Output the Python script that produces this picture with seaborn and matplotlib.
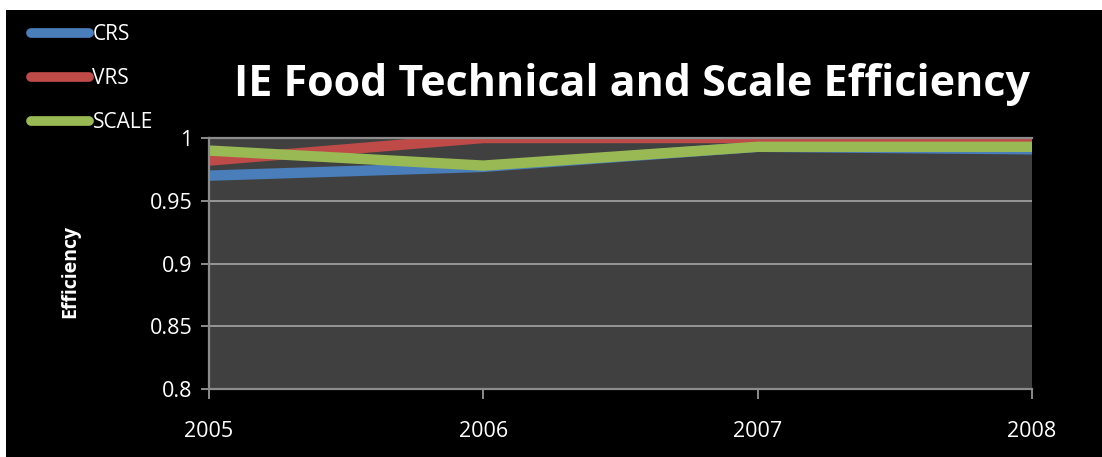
import matplotlib
matplotlib.use("Agg")
import matplotlib.pyplot as plt
from matplotlib.lines import Line2D
from matplotlib.patches import Rectangle
import seaborn as sns
import pandas as pd

# Efficiency scores per year
years = [2005, 2006, 2007, 2008]
crs = [0.970, 0.977, 0.993, 0.991]
vrs = [0.982, 1.000, 1.000, 1.000]
scale = [0.990, 0.978, 0.993, 0.993]
series_names = ["CRS", "VRS", "SCALE"]
y_ticks = [0.8, 0.85, 0.9, 0.95, 1.0]
y_tick_labels = ["0.8", "0.85", "0.9", "0.95", "1"]

colors = {"CRS": "#4A7EBB", "VRS": "#BE4B48", "SCALE": "#98B954"}

df = pd.DataFrame({
    "Year": years * 3,
    "Efficiency": crs + vrs + scale,
    "Series": ["CRS"] * 4 + ["VRS"] * 4 + ["SCALE"] * 4,
})

sns.set_style("dark")
plt.rcParams["font.family"] = ["Open Sans", "DejaVu Sans"]

fig = plt.figure(figsize=(11.02, 4.57), dpi=100)
fig.patch.set_facecolor("white")
# black panel behind the chart, leaving a thin white margin top and left
fig.patches.append(Rectangle((6 / 1102, 0), 1, 1 - 10 / 457, transform=fig.transFigure,
                             facecolor="black", edgecolor="none", zorder=-10))

ax = fig.add_axes([209 / 1102, 1 - 389 / 457, (1032 - 209) / 1102, (389 - 138) / 457])
ax.set_facecolor("#404040")

sns.lineplot(data=df, x="Year", y="Efficiency", hue="Series", hue_order=series_names,
             palette=colors, linewidth=7.5, ax=ax, legend=False, sort=False)
for ln in ax.get_lines():
    ln.set_solid_capstyle("butt")
    ln.set_solid_joinstyle("round")

ax.set_xlim(2005, 2008)
ax.set_ylim(0.8, 1.0)
ax.set_xticks(years)
ax.set_xticklabels([str(y) for y in years])
ax.set_yticks(y_ticks)
ax.set_yticklabels(y_tick_labels)
ax.grid(True, axis="y", color="#a6a6a6", linewidth=1.2)
ax.grid(False, axis="x")
ax.set_axisbelow(True)

ax.spines["right"].set_visible(False)
for side in ["left", "bottom", "top"]:
    ax.spines[side].set_visible(True)
    ax.spines[side].set_color("#8c8c8c")
    ax.spines[side].set_linewidth(1.6)

ax.tick_params(axis="x", colors="#8c8c8c", direction="out", length=7, width=1.4,
               pad=16, labelcolor="white", labelsize=15.5, bottom=True)
ax.tick_params(axis="y", colors="#8c8c8c", direction="out", length=6, width=1.4,
               pad=6, labelcolor="white", labelsize=15.5, left=True)

ax.set_xlabel("")
ax.set_ylabel("Efficiency", color="white", fontsize=14, fontweight="bold")
ax.yaxis.set_label_coords(-0.156, 0.47)

fig.text(632 / 1102, 1 - 84 / 457, "IE Food Technical and Scale Efficiency",
         color="white", fontsize=31, fontweight="bold", ha="center", va="center")

handles = [Line2D([0], [0], color=colors[n], linewidth=7, solid_capstyle="round")
           for n in series_names]
leg = fig.legend(handles, series_names, loc="upper left", bbox_to_anchor=(31 / 1102, 1 - 24 / 457),
                 frameon=False, fontsize=15, labelcolor="white", handlelength=2.8,
                 handletextpad=0.15, labelspacing=1.1, borderaxespad=0, borderpad=0)

fig.savefig("out.png", dpi=100, facecolor=fig.get_facecolor())
